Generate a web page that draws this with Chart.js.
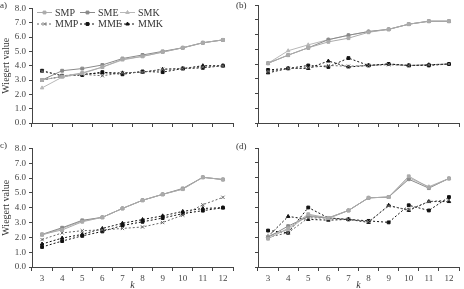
<!DOCTYPE html>
<html>
<head>
<meta charset="utf-8">
<script src="https://cdn.jsdelivr.net/npm/chart.js@4/dist/chart.umd.min.js"></script>
<style>
  body { margin: 0; background: #fff; width: 464px; height: 289px; overflow: hidden; position: relative; }
  canvas { position: absolute; }
  .tag { position: absolute; font: 9px "Liberation Serif", "DejaVu Serif", serif; color: #333; }
</style>
</head>
<body>
<canvas id="chA" width="238" height="136" style="left:0;top:0"></canvas>
<canvas id="chB" width="238" height="136" style="left:226px;top:0"></canvas>
<canvas id="chC" width="238" height="149" style="left:0;top:140px"></canvas>
<canvas id="chD" width="238" height="149" style="left:226px;top:140px"></canvas>
<div class="tag" style="left:0;top:0">a)</div>
<div class="tag" style="left:236px;top:0">(b)</div>
<div class="tag" style="left:0;top:140px">c)</div>
<div class="tag" style="left:236px;top:141px">(d)</div>
<script>
// --- DATA ---
const kValues = ['3', '4', '5', '6', '7', '8', '9', '10', '11', '12'];
const seriesNames = ['SMP', 'SME', 'SMK', 'MMP', 'MME', 'MMK'];
const yTicks = [0, 1, 2, 3, 4, 5, 6, 7, 8];

// panel (a)
const smpA = [3.0, 3.25, 3.5, 3.9, 4.45, 4.65, 4.95, 5.25, 5.6, 5.8];
const smeA = [3.0, 3.65, 3.8, 4.05, 4.5, 4.75, 5.0, 5.25, 5.6, 5.8];
const smkA = [2.45, 3.2, 3.45, 3.9, 4.4, 4.65, 4.95, 5.25, 5.6, 5.8];
const mmpA = [3.6, 3.3, 3.4, 3.3, 3.5, 3.55, 3.75, 3.8, 3.9, 4.0];
const mmeA = [3.65, 3.3, 3.35, 3.55, 3.4, 3.6, 3.55, 3.8, 3.85, 4.0];
const mmkA = [3.0, 3.25, 3.4, 3.5, 3.5, 3.55, 3.75, 3.8, 4.0, 4.0];

// panel (b)
const smpB = [4.05, 4.6, 5.1, 5.5, 5.75, 6.15, 6.35, 6.7, 6.9, 6.9];
const smeB = [4.05, 4.6, 5.1, 5.65, 5.95, 6.2, 6.35, 6.7, 6.9, 6.9];
const smkB = [4.05, 4.9, 5.3, 5.65, 5.95, 6.2, 6.35, 6.7, 6.9, 6.9];
const mmpB = [3.5, 3.7, 3.75, 3.9, 3.85, 3.9, 3.95, 3.9, 3.95, 4.0];
const mmeB = [3.6, 3.7, 3.9, 3.8, 4.4, 3.9, 4.0, 3.9, 3.9, 4.0];
const mmkB = [3.4, 3.7, 3.7, 4.2, 3.8, 3.9, 4.0, 3.9, 3.95, 4.0];

// panel (c)
const smpC = [2.2, 2.5, 3.05, 3.35, 3.95, 4.5, 4.9, 5.25, 6.05, 5.9];
const smeC = [2.2, 2.65, 3.15, 3.35, 3.95, 4.5, 4.9, 5.3, 6.05, 5.9];
const smkC = [2.15, 2.6, 3.1, 3.35, 3.95, 4.5, 4.9, 5.25, 6.05, 5.9];
const mmpC = [1.85, 2.3, 2.45, 2.5, 2.6, 2.7, 3.0, 3.5, 4.2, 4.7];
const mmeC = [1.35, 1.75, 2.1, 2.4, 2.8, 3.05, 3.3, 3.6, 3.8, 4.0];
const mmkC = [1.55, 1.95, 2.2, 2.6, 2.95, 3.2, 3.45, 3.75, 3.95, 4.0];

// panel (d)
const smpD = [1.9, 2.6, 3.55, 3.3, 3.8, 4.65, 4.7, 6.1, 5.35, 5.95];
const smeD = [2.0, 2.75, 3.4, 3.3, 3.8, 4.65, 4.7, 5.9, 5.3, 5.95];
const smkD = [2.1, 2.5, 3.5, 3.25, 3.8, 4.65, 4.7, 6.0, 5.4, 5.95];
const mmpD = [2.0, 2.3, 3.3, 3.3, 3.2, 3.05, 4.1, 3.85, 4.4, 4.5];
const mmeD = [2.45, 2.3, 4.0, 3.3, 3.2, 3.1, 3.0, 4.15, 3.8, 4.7];
const mmkD = [2.05, 3.4, 3.2, 3.15, 3.2, 3.0, 4.15, 3.8, 4.4, 4.4];

// --- STYLES ---
const FONT = '"Liberation Serif", "DejaVu Serif", serif';
const styles = [
    { color: '#ababab', point: 'rect', dash: [] },
    { color: '#8a8a8a', point: 'rect', dash: [] },
    { color: '#b8b8b8', point: 'triangle', dash: [] },
    { color: '#666666', point: 'crossRot', dash: [2, 2] },
    { color: '#111111', point: 'rect', dash: [2, 2] },
    { color: '#111111', point: 'triangle', dash: [2, 2] },
];

function buildDatasets(arrays) {
    return arrays.map((vals, i) => ({
        label: seriesNames[i],
        data: vals,
        borderColor: styles[i].color,
        backgroundColor: styles[i].color,
        borderDash: styles[i].dash,
        borderWidth: 1,
        pointStyle: styles[i].point,
        pointRadius: styles[i].point === 'crossRot' ? 2.3 : 2,
        pointBorderWidth: 1,
        tension: 0,
    }));
}

// legend drawn inside panel (a)
const legendPlugin = {
    id: 'miniLegend',
    afterDraw(chart) {
        const ctx = chart.ctx;
        const cols = [37, 80, 120];
        const rows = [12.5, 24];
        ctx.save();
        chart.data.datasets.forEach((ds, i) => {
            const x = cols[i % 3], y = rows[Math.floor(i / 3)];
            ctx.strokeStyle = ds.borderColor;
            ctx.fillStyle = ds.backgroundColor;
            ctx.lineWidth = 1;
            ctx.setLineDash(ds.borderDash);
            ctx.beginPath();
            ctx.moveTo(x, y);
            ctx.lineTo(x + 15, y);
            ctx.stroke();
            ctx.setLineDash([]);
            Chart.helpers.drawPoint(ctx, { pointStyle: ds.pointStyle, radius: ds.pointRadius, borderWidth: 1, rotation: 0 }, x + 7.5, y);
            ctx.fillStyle = '#333';
            ctx.font = '10px ' + FONT;
            ctx.textBaseline = 'middle';
            ctx.fillText(ds.label, x + 18, y + 0.5);
        });
        ctx.restore();
    }
};

function makePanel(id, arrays, cfg) {
    new Chart(document.getElementById(id), {
        type: 'line',
        data: { labels: kValues, datasets: buildDatasets(arrays) },
        plugins: cfg.legend ? [legendPlugin] : [],
        options: {
            responsive: false,
            animation: false,
            layout: { padding: { top: cfg.top, right: cfg.right, left: 0, bottom: 0 } },
            plugins: { legend: { display: false }, tooltip: { enabled: false } },
            scales: {
                x: {
                    offset: true,
                    grid: { offset: true, drawOnChartArea: false, drawTicks: true, tickLength: 4, color: '#444' },
                    border: { display: true, color: '#444', width: 1 },
                    ticks: { display: cfg.xLabels, color: '#444', padding: 2, font: { family: FONT, size: 9 } },
                    title: { display: cfg.xLabels, text: 'k', color: '#333', padding: 0, font: { family: FONT, size: 10, style: 'italic', lineHeight: 0.7 } },
                    afterFit: (s) => { s.height = cfg.xh; }
                },
                y: {
                    min: 0, max: 8,
                    afterBuildTicks: (s) => { s.ticks = yTicks.map(v => ({ value: v })); },
                    grid: { drawOnChartArea: false, drawTicks: true, tickLength: 3, color: '#444' },
                    border: { display: true, color: '#444', width: 1 },
                    ticks: { display: cfg.yLabels, color: '#444', padding: 3, font: { family: FONT, size: 9 }, callback: (v) => Number(v).toFixed(1) },
                    title: { display: cfg.yLabels, text: 'Wiegert value', color: '#333', padding: 0, font: { family: FONT, size: 10 } },
                    afterFit: (s) => { s.width = 32; }
                }
            }
        }
    });
}

makePanel('chA', [smpA, smeA, smkA, mmpA, mmeA, mmkA], { top: 6, right: 1, xh: 13, xLabels: false, yLabels: true, legend: true });
makePanel('chB', [smpB, smeB, smkB, mmpB, mmeB, mmkB], { top: 5, right: 1, xh: 13, xLabels: false, yLabels: false });
makePanel('chC', [smpC, smeC, smkC, mmpC, mmeC, mmkC], { top: 7, right: 1, xh: 22, xLabels: true, yLabels: true });
makePanel('chD', [smpD, smeD, smkD, mmpD, mmeD, mmkD], { top: 8, right: 1, xh: 22, xLabels: true, yLabels: false });
</script>
</body>
</html>
